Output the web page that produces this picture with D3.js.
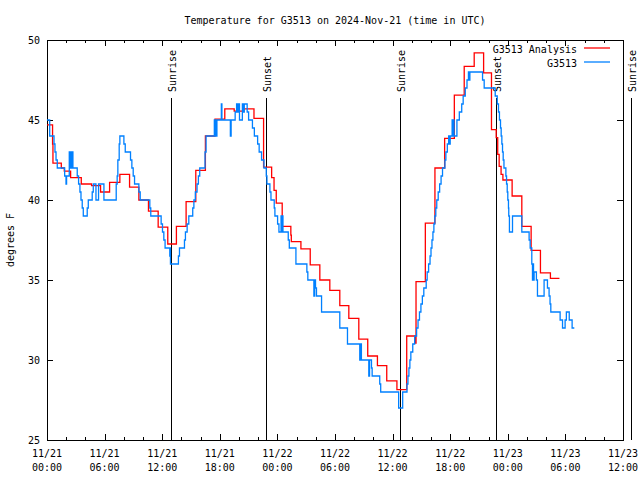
<!DOCTYPE html>
<html><head><meta charset="utf-8">
<script src="https://cdn.jsdelivr.net/npm/d3@7"></script>
<style>
body{margin:0;background:#fff}
text{font-family:"DejaVu Sans Mono","Liberation Mono",monospace;font-size:10px;fill:#000}
</style>
</head><body>
<svg id="chart" width="640" height="480"></svg>
<script>
const titleText = "Temperature for G3513 on 2024-Nov-21 (time in UTC)";
const yLabelText = "degrees F";
const seriesNames = ["G3513 Analysis", "G3513"];
const seriesColors = ["#ff0000", "#0080ff"];
const yTickValues = [25, 30, 35, 40, 45, 50];
const startTime = Date.UTC(2024, 10, 21, 0, 0);
const endTime = Date.UTC(2024, 10, 23, 12, 0);
const eventNames = ["Sunrise", "Sunset", "Sunrise", "Sunset", "Sunrise"];
const eventHours = [12.89, 22.77, 36.81, 46.79, 60.83];

// Analysis (hours since 11/21 00:00 UTC, deg F)
const analysisHours = [0, 0.58, 0.62, 1.49, 1.8, 2.46, 3.57, 4.64, 5.58, 6.52, 7.59, 8.6, 9.57, 10.57, 11.58, 12.58,
  13.48, 14.49, 15.5, 16.5, 17.5, 18.52, 19.5, 20.5, 21.56, 22.56, 23.4, 23.65, 23.88, 24.5, 25.4, 25.45, 26.45,
  27.42, 28.42, 29.46, 30.5, 31.44, 32.48, 33.41, 34.42, 35.39, 36.45, 37.47, 38.35, 38.44, 39.41, 40.41, 41.42,
  42.43, 43.46, 44.5, 45.48, 46.3, 46.79, 46.95, 47.1, 47.3, 47.49, 48.45, 49.46, 50.43, 51.4, 52.44, 53.38];
const analysisTemps = [44.7, 43.5, 42.3, 42.0, 41.8, 41.4, 41.0, 40.9, 40.5, 41.1, 41.6, 40.8, 40.0, 39.3, 38.3, 37.25,
  38.35, 39.9, 41.85, 44.0, 45.05, 45.7, 45.55, 45.7, 45.1, 42.05, 41.4, 40.6, 39.8, 38.35, 37.8, 37.4, 36.95,
  35.95, 35.0, 34.35, 33.4, 32.6, 31.3, 30.25, 29.65, 28.7, 28.15, 31.5, 31.05, 34.9, 38.55, 42.0, 43.85,
  46.55, 48.35, 49.2, 47.95, 44.4, 43.9, 42.85, 42.1, 41.6, 41.25, 40.25, 38.35, 36.85, 35.45, 35.1, 35.1];

// Observations
const obsHours = [0.0, 0.28, 0.73, 0.83, 0.94, 1.07, 1.84, 1.98, 2.04, 2.32, 2.39, 2.46, 2.53, 2.63, 2.7, 3.15, 3.29,
  3.43, 3.54, 3.67, 3.78, 4.19, 4.3, 4.71, 4.82, 5.1, 5.37, 5.93, 7.21, 7.31, 7.38, 7.52, 7.59, 8.01, 8.15, 8.7, 8.84,
  8.98, 9.12, 9.57, 9.71, 10.71, 10.81, 11.89, 12.03, 12.17, 12.3, 12.79, 12.83, 12.86, 13.69, 13.8, 14.32, 14.42,
  14.6, 14.77, 15.18, 15.3, 15.45, 15.63, 15.77, 15.91, 16.46, 16.57, 17.43, 17.5, 17.55, 17.65, 17.7, 18.16, 18.22,
  19.1, 19.18, 19.6, 19.75, 19.85, 19.95, 20.05, 20.35, 20.45, 20.55, 20.85, 21.0, 21.4, 21.6, 21.94, 22.1, 22.35,
  22.6, 22.84, 22.91, 23.22, 23.33, 23.67, 23.74, 24.02, 24.16, 24.38, 24.45, 24.5, 24.58, 25.13, 25.24, 25.93,
  27.07, 27.17, 27.8, 27.88, 27.97, 28.07, 28.6, 30.5, 31.3, 32.58, 32.65, 32.75, 33.52, 33.6, 33.8, 33.87, 34.66,
  34.76, 36.63, 37.05, 37.5, 37.6, 37.7, 37.8, 37.9, 38.1, 38.3, 38.5, 38.65, 38.8, 38.95, 39.1, 39.25, 39.5, 39.6,
  39.75, 39.9, 40.0, 40.1, 40.2, 40.3, 40.4, 40.5, 40.6, 40.75, 40.9, 41.05, 41.2, 41.45, 41.55, 41.7, 41.84, 41.95,
  42.0, 42.2, 42.25, 42.35, 42.4, 42.7, 42.95, 43.2, 43.35, 43.57, 43.75, 43.9, 44.0, 44.05, 45.37, 45.54, 46.69,
  46.9, 47.03, 47.13, 47.24, 47.31, 47.38, 47.45, 47.52, 47.6, 47.8, 47.87, 47.94, 48.0, 48.07, 48.1, 48.17, 48.49,
  49.46, 50.22, 50.33, 50.5, 50.57, 50.62, 50.68, 50.74, 50.98, 51.09, 51.78, 52.13, 52.3, 52.4, 52.48, 53.45, 53.7,
  53.97, 54.1, 54.4, 54.7, 54.93];
const obsTemps = [45.0, 44.0, 43.5, 43.0, 42.5, 42.0, 41.5, 41.0, 41.5, 43.0, 42.0, 43.0, 42.0, 43.0, 42.0, 41.5, 41.0,
  40.5, 40.0, 39.5, 39.0, 39.5, 40.0, 40.5, 41.0, 40.0, 41.0, 40.0, 41.0, 41.5, 42.5, 43.5, 44.0, 43.5, 43.0, 42.5, 42.0,
  41.5, 41.0, 40.5, 40.0, 39.5, 39.0, 38.5, 38.0, 37.5, 37.0, 36.5, 37.0, 36.0, 36.5, 37.0, 37.5, 38.0,
  38.5, 39.0, 39.5, 40.0, 40.5, 41.0, 41.5, 42.0, 43.0, 44.0, 45.0, 44.0, 45.0, 44.0, 45.0, 46.0, 45.0,
  44.0, 45.0, 45.5, 46.0, 45.5, 46.0, 45.0, 46.0, 45.5, 46.0, 45.5, 45.0, 44.5, 44.0, 43.5, 43.0, 42.5,
  42.0, 41.5, 41.0, 40.5, 40.0, 39.5, 39.0, 38.5, 38.0, 39.0, 38.0, 39.0, 38.0, 37.5, 37.0, 36.0,
  35.5, 35.0, 34.0, 35.0, 34.5, 34.0, 33.0, 32.0, 31.0, 30.0, 31.0, 30.0, 29.0, 30.0, 29.5, 29.0, 28.5,
  28.0, 27.0, 28.0, 28.5, 29.0, 29.5, 30.0, 30.5, 31.0, 31.5, 32.0, 32.5, 33.0, 33.5, 34.0, 34.5, 35.0, 35.5,
  36.0, 36.5, 37.0, 37.5, 38.0, 38.5, 39.0, 39.5, 40.0, 40.5, 41.0, 41.5, 42.0, 42.5, 43.0, 43.5, 44.0, 43.5,
  44.0, 45.0, 44.0, 45.0, 44.0, 45.0, 45.5, 46.0, 46.5, 47.0, 47.5, 48.0, 47.5, 48.0, 47.5, 47.0, 46.5,
  46.0, 45.5, 45.0, 44.5, 44.0, 43.5, 43.0, 42.5, 42.0, 41.5, 41.0, 40.5, 40.0, 39.5, 39.0, 38.0, 39.0,
  38.0, 37.5, 37.0, 36.0, 35.0, 36.0, 35.0, 35.5, 35.0, 34.0, 35.0, 34.5, 34.0, 33.5, 33.0, 32.5, 32.0,
  32.5, 33.0, 32.5, 32.0, 32.0];

const svg = d3.select("#chart");
const L = 47, R = 623, T = 40, B = 440;
const toDate = h => new Date(startTime + h * 3600e3);
const x = d3.scaleUtc().domain([new Date(startTime), new Date(endTime)]).range([L, R]);
const y = d3.scaleLinear().domain([25, 50]).range([B, T]);

const tickG = svg.append("g").attr("stroke", "#000").attr("stroke-width", 1).attr("shape-rendering", "crispEdges");
// minor x ticks
x.ticks(d3.utcHour.every(2)).forEach(d => {
  const px = Math.round(x(d)) + 0.5;
  tickG.append("line").attr("x1", px).attr("x2", px).attr("y1", B).attr("y2", B - 3);
  tickG.append("line").attr("x1", px).attr("x2", px).attr("y1", T).attr("y2", T + 3);
});
const majorX = x.ticks(d3.utcHour.every(6));
majorX.forEach(d => {
  const px = Math.round(x(d)) + 0.5;
  tickG.append("line").attr("x1", px).attr("x2", px).attr("y1", B).attr("y2", B - 6);
  tickG.append("line").attr("x1", px).attr("x2", px).attr("y1", T).attr("y2", T + 6);
});
yTickValues.forEach(v => {
  const py = Math.round(y(v)) + 0.5;
  tickG.append("line").attr("x1", L).attr("x2", L + 6).attr("y1", py).attr("y2", py);
  tickG.append("line").attr("x1", R).attr("x2", R - 6).attr("y1", py).attr("y2", py);
});

// border
svg.append("rect").attr("x", L + 0.5).attr("y", T + 0.5).attr("width", R - L).attr("height", B - T)
  .attr("fill", "none").attr("stroke", "#000").attr("shape-rendering", "crispEdges");

// x labels
const fmtD = d3.utcFormat("%m/%d"), fmtT = d3.utcFormat("%H:%M");
const xl = svg.append("g").selectAll("text").data(majorX).join("text")
  .attr("text-anchor", "middle").attr("x", d => x(d));
xl.append("tspan").attr("x", d => x(d)).attr("y", 457).text(d => fmtD(d));
xl.append("tspan").attr("x", d => x(d)).attr("y", 471).text(d => fmtT(d));

// y labels
svg.append("g").selectAll("text").data(yTickValues).join("text")
  .attr("text-anchor", "end").attr("x", 40).attr("y", d => y(d) + 4).text(d => d);

// title & y label
svg.append("text").attr("x", (L + R) / 2).attr("y", 24).attr("text-anchor", "middle").text(titleText);
svg.append("text").attr("transform", "translate(14,240) rotate(-90)").attr("text-anchor", "middle").text(yLabelText);

// sunrise / sunset
const ev = svg.append("g");
eventHours.forEach((h, i) => {
  const px = Math.round(x(toDate(h))) + 0.5;
  ev.append("line").attr("x1", px).attr("x2", px).attr("y1", 98).attr("y2", B)
    .attr("stroke", "#000").attr("shape-rendering", "crispEdges");
  ev.append("text").attr("transform", `translate(${px + 4},92) rotate(-90)`).attr("text-anchor", "start").text(eventNames[i]);
});

// series
const line = d3.line().x(d => x(toDate(d[0]))).y(d => y(d[1])).curve(d3.curveStepAfter);
const analysisData = analysisHours.map((h, i) => [h, analysisTemps[i]]);
const obsData = obsHours.map((h, i) => [h, obsTemps[i]]);
svg.append("path").datum(analysisData).attr("d", line).attr("fill", "none")
  .attr("stroke", seriesColors[0]).attr("stroke-width", 1.3);
svg.append("path").datum(obsData).attr("d", line).attr("fill", "none")
  .attr("stroke", seriesColors[1]).attr("stroke-width", 1.3);

// legend
seriesNames.forEach((n, i) => {
  const ly = 49 + i * 14;
  svg.append("text").attr("x", 577).attr("y", ly + 4).attr("text-anchor", "end").text(n);
  svg.append("line").attr("x1", 584).attr("x2", 610).attr("y1", ly - 1).attr("y2", ly - 1)
    .attr("stroke", seriesColors[i]).attr("stroke-width", 1.3);
});
</script>
</body></html>
